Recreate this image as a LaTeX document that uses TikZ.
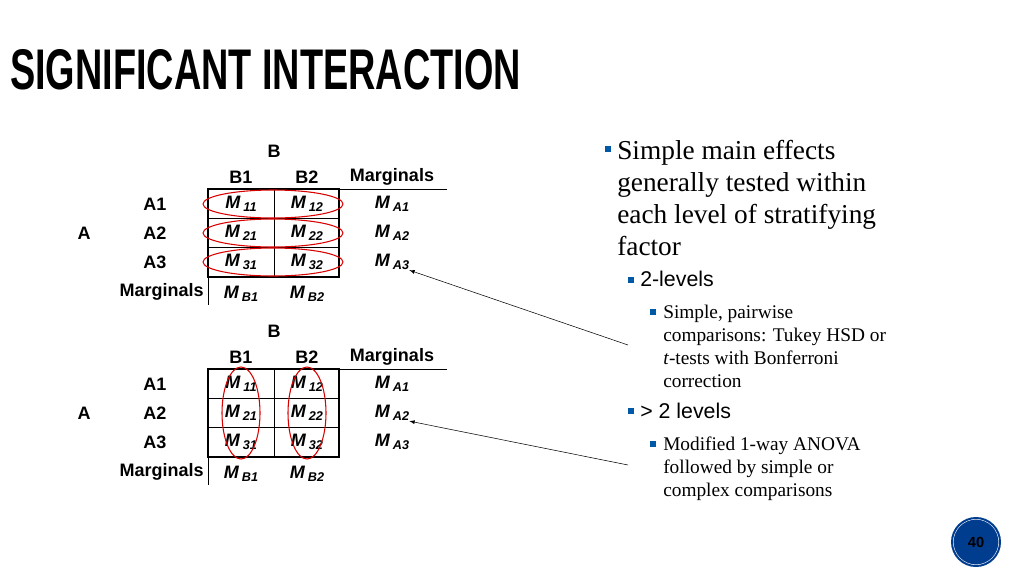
\documentclass[tikz,border=0pt]{standalone}
\usepackage{fontspec}
\setmainfont{Liberation Serif}
\setsansfont{Liberation Sans}
\newcommand\sbs[1]{\raisebox{-0.35ex}{\fontsize{9.5}{10}\selectfont #1}}
\begin{document}
\begin{tikzpicture}[x=0.75pt,y=-0.75pt,
 tx/.style={font=\sffamily\bfseries\fontsize{13.5}{14}\selectfont,inner sep=0pt},
 mm/.style={font=\sffamily\bfseries\itshape\fontsize{13.5}{14}\selectfont,inner sep=0pt},
 ov/.style={draw=red!85!black,thick},
 b1/.style={font=\fontsize{20.5}{24}\selectfont,anchor=north west,align=left,inner sep=0pt},
 b2/.style={font=\sffamily\fontsize{16}{19}\selectfont,anchor=north west,inner sep=0pt},
 b3/.style={font=\fontsize{14.5}{17.2}\selectfont,anchor=north west,align=left,inner sep=0pt},
 bul/.style={fill=teal!70!blue,inner sep=0pt}]
\useasboundingbox (0,0) rectangle (1024,576);
\node[anchor=west,inner sep=0pt,xscale=0.66] (title) at (10,70) {\sffamily\bfseries\fontsize{43}{45}\selectfont SIGNIFICANT INTERACTION};
\newcommand\mytable[2]{%
 \begin{scope}[yshift=-#1*0.75pt]
 \node[tx] (#2B) at (274,151) {B};
 \node[tx] (#2b1) at (241,177) {B1};
 \node[tx] (#2b2) at (307,177) {B2};
 \node[tx] (#2mg) at (392,177) {Marginals};
 \node[tx] (#2A) at (84,233) {A};
 \node[tx] (#2a1) at (155,204) {A1};
 \node[tx] (#2a2) at (155,233) {A2};
 \node[tx] (#2a3) at (155,262) {A3};
 \node[tx,anchor=east] (#2mr) at (204,292) {Marginals};
 \foreach \r/\yy in {1/204,2/233,3/262}{
   \node[mm] (#2m\r1) at (241,\yy) {M\,\sbs{\r1}};
   \node[mm] (#2m\r2) at (307,\yy) {M\,\sbs{\r2}};
   \node[mm] (#2ma\r) at (392,\yy) {M\,\sbs{A\r}};}
 \node[mm] (#2mb1) at (241,294) {M\,\sbs{B1}};
 \node[mm] (#2mb2) at (307,294) {M\,\sbs{B2}};
 \draw (208,218) -- (339,218) (208,247) -- (339,247) (274,189) -- (274,277);
 \draw (339,189) -- (447,189);
 \draw (208,277) -- (208,305);
 \draw[line width=1.6pt] (208,189) rectangle (339,277);
 \end{scope}}
\mytable{0}{t}
\mytable{180}{u}
\foreach \yy in {204,233,262} \draw[ov] (273,\yy) ellipse (70 and 14);
\draw[ov] (241,413) ellipse (19 and 46);
\draw[ov] (307,413) ellipse (19 and 46);
\coordinate (e1) at (628,345);
\coordinate (e2) at (628,465);
\draw[-latex] (e1) -- (tma3.south east);
\draw[-latex] (e2) -- (uma2.south east);
\node[bul,minimum size=5pt] (p1) at (608,149) {};
\node[b1] (t1) at (617,140) {Simple main effects\\generally tested within\\each level of stratifying\\factor};
\node[bul,minimum size=4.5pt] (p2) at (631,280) {};
\node[b2] (t2) at (640,271) {2-levels};
\node[bul,minimum size=4pt] (p3) at (653,312) {};
\node[b3] (t3) at (663,305) {Simple, pairwise\\comparisons: Tukey HSD or\\\textit{t}-tests with Bonferroni\\correction};
\node[bul,minimum size=4.5pt] (p4) at (631,411) {};
\node[b2] (t4) at (640,403) {> 2 levels};
\node[bul,minimum size=4pt] (p5) at (653,444) {};
\node[b3] (t5) at (663,437) {Modified 1-way ANOVA\\followed by simple or\\complex comparisons};
\node[circle,fill=teal!60!blue!80!black,draw=white,double=teal!60!blue!80!black,double distance=1.5pt,minimum size=36pt,inner sep=0pt,font=\sffamily\bfseries\fontsize{11}{12}\selectfont] (pg) at (976,542) {40};
\end{tikzpicture}
\end{document}
